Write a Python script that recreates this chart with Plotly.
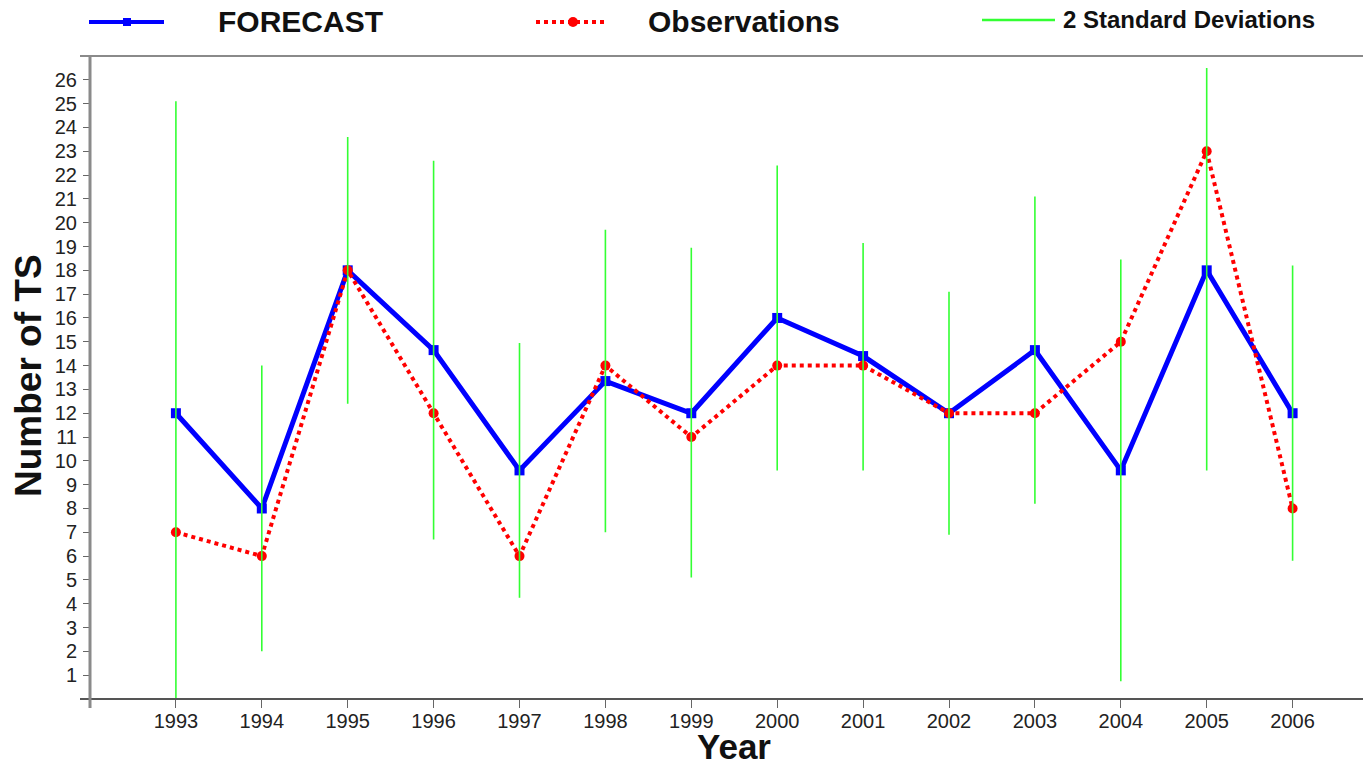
import plotly.graph_objects as go

# Seasonal tropical-storm counts: forecast vs observed, with the 2-sigma spread
years = [1993, 1994, 1995, 1996, 1997, 1998, 1999, 2000, 2001, 2002, 2003, 2004, 2005, 2006]
forecast = [12, 8, 18, 14.65, 9.6, 13.35, 12, 16, 14.4, 12, 14.65, 9.6, 18, 12]
observations = [7, 6, 18, 12, 6, 14, 11, 14, 14, 12, 12, 15, 23, 8]
sd_upper = [25.1, 14.0, 23.6, 22.6, 14.95, 19.7, 18.95, 22.4, 19.15, 17.1, 21.1, 18.45, 26.5, 18.2]
sd_lower = [-1.1, 2.0, 12.4, 6.7, 4.25, 7.0, 5.1, 9.6, 9.6, 6.9, 8.2, 0.75, 9.6, 5.8]
y_ticks = list(range(1, 27))

W, H = 1363, 767
ML, MR, MT, MB = 90, 0, 56, 68
PW, PH = W - ML - MR, H - MT - MB

BLUE = "#0000ff"
RED = "#ff0000"
GREEN = "#33ff33"
FONT = "Liberation Sans"


def px_x(p):
    return (p - ML) / PW


def px_y(p):
    return (H - MB - p) / PH


# vertical 2-sigma segments, separated by gaps
sd_x, sd_y = [], []
for yr, lo, hi in zip(years, sd_lower, sd_upper):
    sd_x += [yr, yr, None]
    sd_y += [lo, hi, None]

fig = go.Figure()
fig.add_trace(go.Scatter(
    x=years, y=forecast, mode="lines+markers", name="FORECAST",
    line=dict(color=BLUE, width=5),
    marker=dict(symbol="square", size=10, color=BLUE),
    showlegend=False,
))
fig.add_trace(go.Scatter(
    x=years, y=observations, mode="lines+markers", name="Observations",
    line=dict(color=RED, width=4, dash="dot"),
    marker=dict(symbol="circle", size=10, color=RED),
    showlegend=False,
))
fig.add_trace(go.Scatter(
    x=sd_x, y=sd_y, mode="lines", name="2 Standard Deviations",
    line=dict(color=GREEN, width=1.6),
    showlegend=False,
))

shapes = [
    # frame lines
    dict(type="line", xref="paper", yref="paper", x0=px_x(80), x1=1, y0=0, y1=0,
         line=dict(color="#555555", width=2)),
    dict(type="line", xref="paper", yref="paper", x0=px_x(80), x1=1, y0=1, y1=1,
         line=dict(color="#8a8a8a", width=2)),
    dict(type="line", xref="paper", yref="paper", x0=0, x1=0, y0=px_y(708), y1=1,
         line=dict(color="#8a8a8a", width=3)),
    # legend keys
    dict(type="line", xref="paper", yref="paper", x0=px_x(89), x1=px_x(164),
         y0=px_y(22), y1=px_y(22), line=dict(color=BLUE, width=4)),
    dict(type="rect", xref="paper", yref="paper", x0=px_x(123), x1=px_x(131),
         y0=px_y(26), y1=px_y(18), line=dict(width=0), fillcolor=BLUE),
    dict(type="line", xref="paper", yref="paper", x0=px_x(536), x1=px_x(608),
         y0=px_y(22), y1=px_y(22), line=dict(color=RED, width=4, dash="dot")),
    dict(type="circle", xref="paper", yref="paper", x0=px_x(568), x1=px_x(578),
         y0=px_y(27), y1=px_y(17), line=dict(width=0), fillcolor=RED),
    dict(type="line", xref="paper", yref="paper", x0=px_x(982), x1=px_x(1055),
         y0=px_y(20), y1=px_y(20), line=dict(color=GREEN, width=2.5)),
]

annotations = [
    dict(text="FORECAST", xref="paper", yref="paper", x=px_x(216), y=px_y(22),
         xanchor="left", yanchor="middle", showarrow=False,
         font=dict(family=FONT, size=30, color="#111111", weight="bold")),
    dict(text="Observations", xref="paper", yref="paper", x=px_x(646), y=px_y(22),
         xanchor="left", yanchor="middle", showarrow=False,
         font=dict(family=FONT, size=30, color="#111111", weight="bold")),
    dict(text="2 Standard Deviations", xref="paper", yref="paper", x=px_x(1061), y=px_y(20),
         xanchor="left", yanchor="middle", showarrow=False,
         font=dict(family=FONT, size=24, color="#111111", weight="bold")),
    dict(text="Number of TS", xref="paper", yref="paper", x=px_x(28), y=px_y(376),
         xanchor="center", yanchor="middle", textangle=-90, showarrow=False,
         font=dict(family=FONT, size=37, color="#111111", weight="bold")),
    dict(text="Year", xref="x", yref="paper", x=(years[0] + years[-1]) / 2, y=px_y(746),
         xanchor="center", yanchor="middle", showarrow=False,
         font=dict(family=FONT, size=35, color="#111111", weight="bold")),
]

fig.update_layout(
    width=W, height=H,
    margin=dict(l=ML, r=MR, t=MT, b=MB, autoexpand=False),
    paper_bgcolor="white", plot_bgcolor="white",
    shapes=shapes, annotations=annotations,
    xaxis=dict(
        range=[1992, 1992 + PW / 85.9], tickvals=years, ticktext=[str(y) for y in years],
        showgrid=False, zeroline=False, showline=False,
        ticks="outside", ticklen=8, tickwidth=1, tickcolor="#666666",
        tickfont=dict(family=FONT, size=20, color="#222222"),
        ticklabelstandoff=-4,
    ),
    yaxis=dict(
        range=[0, 27], tickvals=y_ticks, ticktext=[str(v) for v in y_ticks],
        showgrid=False, zeroline=False, showline=False,
        ticks="outside", ticklen=6, tickwidth=1, tickcolor="#666666",
        tickfont=dict(family=FONT, size=20, color="#222222"),
        ticklabelstandoff=2,
    ),
)

fig.write_html("out.html")
